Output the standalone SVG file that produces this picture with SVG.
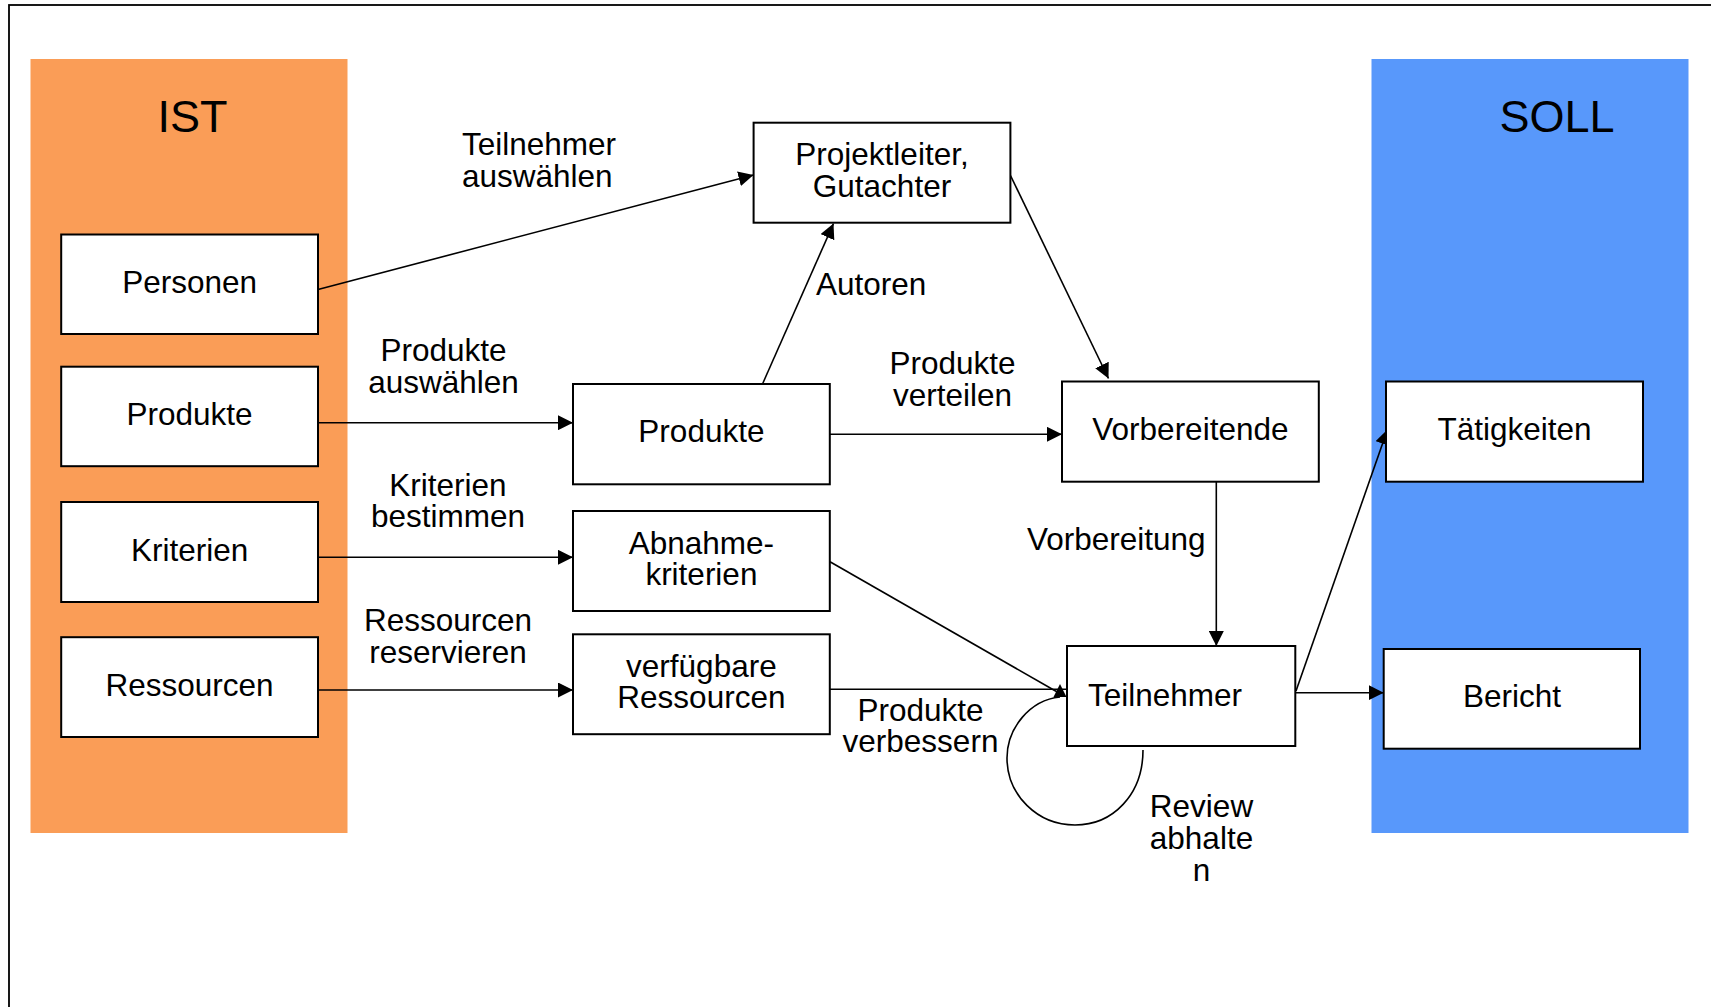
<svg xmlns="http://www.w3.org/2000/svg" width="1711" height="1007" viewBox="0 0 1711 1007">
  <defs>
    <style>
      .node rect { fill: #ffffff; stroke: #000000; stroke-width: 2; }
      text { font-family: "Liberation Sans", Arial, sans-serif; font-size: 31.5px; fill: #000000; }
      .c { text-anchor: middle; }
      .title { font-size: 45px; }
      .conn path, .conn line { fill: none; stroke: #000000; stroke-width: 1.6; }
    </style>
    <marker id="arr" viewBox="0 0 10 10" refX="10" refY="5" markerWidth="15" markerHeight="15" markerUnits="userSpaceOnUse" orient="auto">
      <path d="M0,0 L10,5 L0,10 z" fill="#000000"/>
    </marker>
    <marker id="arrUp" viewBox="0 0 10 10" refX="0" refY="5" markerWidth="13" markerHeight="15" markerUnits="userSpaceOnUse" orient="-90">
      <path d="M0,0 L10,5 L0,10 z" fill="#000000"/>
    </marker>
  </defs>

  <rect width="1711" height="1007" fill="#ffffff"/>
  <!-- outer frame -->
  <rect x="9" y="5" width="1730" height="1040" fill="none" stroke="#000000" stroke-width="1.8"/>

  <!-- panels -->
  <g id="panel-ist">
    <rect x="30.5" y="59" width="317" height="774" fill="#FA9D57"/>
    <text class="c title" x="192.5" y="131.5">IST</text>
  </g>
  <g id="panel-soll">
    <rect x="1371.5" y="59" width="317" height="774" fill="#5898FB"/>
    <text class="c title" x="1557" y="131.5">SOLL</text>
  </g>

  <!-- connectors -->
  <g id="connectors" class="conn">
    <line x1="318" y1="289.5" x2="753.5" y2="175" marker-end="url(#arr)"/>
    <line x1="318" y1="422.7" x2="573" y2="422.7" marker-end="url(#arr)"/>
    <line x1="318" y1="557.3" x2="573" y2="557.3" marker-end="url(#arr)"/>
    <line x1="318" y1="690" x2="573" y2="690" marker-end="url(#arr)"/>
    <line x1="762.5" y1="384" x2="833.5" y2="223.5" marker-end="url(#arr)"/>
    <line x1="830" y1="434.3" x2="1062" y2="434.3" marker-end="url(#arr)"/>
    <line x1="1010.5" y1="175.5" x2="1108.5" y2="378.5" marker-end="url(#arr)"/>
    <line x1="1216.3" y1="481.7" x2="1216.3" y2="646" marker-end="url(#arr)"/>
    <line x1="830" y1="561.7" x2="1059" y2="693"/>
    <line x1="830" y1="689.3" x2="1067" y2="689.3"/>
    <path d="M1143,750 C1143,795 1112.6,825 1075,825 C1037.4,825 1007,795 1007,758 C1007,728 1030,700 1060,697" marker-end="url(#arrUp)"/>
    <line x1="1295.5" y1="692.7" x2="1383.7" y2="692.7" marker-end="url(#arr)"/>
    <line x1="1296" y1="691" x2="1387.5" y2="429.5" marker-end="url(#arr)"/>
  </g>

  <!-- connector labels -->
  <g id="labels">
    <text x="462" y="155">Teilnehmer</text>
    <text x="462" y="186.7">auswählen</text>
    <text class="c" x="443.5" y="360.7">Produkte</text>
    <text class="c" x="443.5" y="392.7">auswählen</text>
    <text class="c" x="448" y="495.5">Kriterien</text>
    <text class="c" x="448" y="527.4">bestimmen</text>
    <text class="c" x="448" y="631.2">Ressourcen</text>
    <text class="c" x="448" y="663.1">reservieren</text>
    <text x="816" y="295">Autoren</text>
    <text class="c" x="952.5" y="374.3">Produkte</text>
    <text class="c" x="952.5" y="406">verteilen</text>
    <text x="1027" y="550">Vorbereitung</text>
    <text class="c" x="920.5" y="720.7">Produkte</text>
    <text class="c" x="920.5" y="751.7">verbessern</text>
    <text class="c" x="1201.5" y="816.5">Review</text>
    <text class="c" x="1201.5" y="849">abhalte</text>
    <text class="c" x="1201.5" y="881">n</text>
  </g>

  <!-- nodes -->
  <g id="personen" class="node">
    <rect x="61.2" y="234.5" width="256.8" height="99.5"/>
    <text class="c" x="189.6" y="293.3">Personen</text>
  </g>
  <g id="produkte-ist" class="node">
    <rect x="61.2" y="366.7" width="256.8" height="99.5"/>
    <text class="c" x="189.6" y="425">Produkte</text>
  </g>
  <g id="kriterien" class="node">
    <rect x="61.2" y="502" width="256.8" height="100"/>
    <text class="c" x="189.6" y="560.8">Kriterien</text>
  </g>
  <g id="ressourcen" class="node">
    <rect x="61.2" y="637.2" width="256.8" height="99.8"/>
    <text class="c" x="189.6" y="695.8">Ressourcen</text>
  </g>
  <g id="projektleiter" class="node">
    <rect x="753.6" y="122.7" width="256.8" height="100"/>
    <text class="c" x="882" y="165">Projektleiter,</text>
    <text class="c" x="882" y="196.7">Gutachter</text>
  </g>
  <g id="produkte" class="node">
    <rect x="573" y="384" width="256.8" height="100.3"/>
    <text class="c" x="701.4" y="442.3">Produkte</text>
  </g>
  <g id="abnahmekriterien" class="node">
    <rect x="573" y="511" width="256.8" height="100"/>
    <text class="c" x="701.4" y="554.3">Abnahme-</text>
    <text class="c" x="701.4" y="585">kriterien</text>
  </g>
  <g id="verfuegbare-ressourcen" class="node">
    <rect x="573" y="634.3" width="256.8" height="99.9"/>
    <text class="c" x="701.4" y="676.7">verfügbare</text>
    <text class="c" x="701.4" y="708.3">Ressourcen</text>
  </g>
  <g id="vorbereitende" class="node">
    <rect x="1062" y="381.5" width="256.8" height="100.2"/>
    <text class="c" x="1190.4" y="440">Vorbereitende</text>
  </g>
  <g id="teilnehmer" class="node">
    <rect x="1067" y="646" width="228.3" height="100"/>
    <text x="1088" y="706">Teilnehmer</text>
  </g>
  <g id="taetigkeiten" class="node">
    <rect x="1386" y="381.5" width="257" height="100.2"/>
    <text class="c" x="1514.5" y="440">Tätigkeiten</text>
  </g>
  <g id="bericht" class="node">
    <rect x="1383.7" y="649" width="256.3" height="99.7"/>
    <text class="c" x="1511.9" y="707.3">Bericht</text>
  </g>
</svg>
